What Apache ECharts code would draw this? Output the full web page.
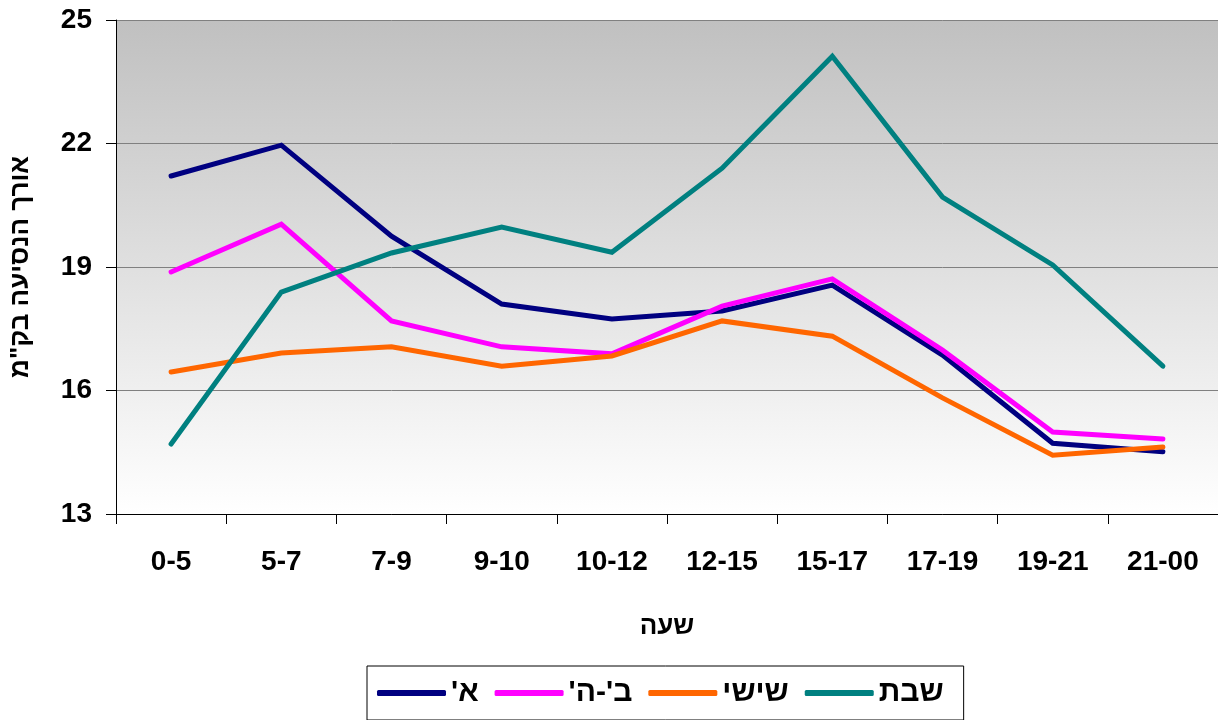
<!DOCTYPE html>
<html><head><meta charset="utf-8">
<script src="https://cdn.jsdelivr.net/npm/echarts@6/dist/echarts.min.js"></script>
<style>html,body{margin:0;padding:0;background:#fff}#c{width:1218px;height:720px}</style>
</head><body><div id="c"></div>
<script>
const categories = ['0-5','5-7','7-9','9-10','10-12','12-15','15-17','17-19','19-21','21-00'];
const seriesNames = ["א'", "ב'-ה'", 'שישי', 'שבת'];
const dataA = [21.21, 21.96, 19.75, 18.10, 17.74, 17.93, 18.56, 16.86, 14.72, 14.51];
const dataBH = [18.88, 20.04, 17.69, 17.06, 16.89, 18.05, 18.71, 16.98, 14.99, 14.82];
const dataFri = [16.45, 16.91, 17.06, 16.59, 16.84, 17.69, 17.32, 15.82, 14.43, 14.63];
const dataSat = [14.70, 18.39, 19.34, 19.97, 19.36, 21.40, 24.12, 20.70, 19.05, 16.59];
const yTicks = [13, 16, 19, 22, 25];
const colors = ['#000080', '#FF00FF', '#FF6600', '#008080'];
const RLM = '\u200F';
const FONT = '"Liberation Sans", Arial, sans-serif';

const chart = echarts.init(document.getElementById('c'), null, {renderer: 'canvas'});
const allData = [dataA, dataBH, dataFri, dataSat];
chart.setOption({
  animation: false,
  textStyle: {fontFamily: FONT},
  grid: {
    left: 113, top: 20, right: 0, bottom: 206,
    show: true, borderWidth: 0,
    backgroundColor: new echarts.graphic.LinearGradient(0, 0, 0, 1, [
      {offset: 0, color: '#c0c0c0'}, {offset: 1, color: '#ffffff'}
    ])
  },
  xAxis: {
    type: 'category', data: categories, boundaryGap: true,
    name: RLM + 'שעה' + RLM, nameLocation: 'middle', nameGap: 100,
    nameTextStyle: {fontSize: 26, fontWeight: 'bold', color: '#000', fontFamily: FONT},
    axisLine: {lineStyle: {color: '#000', width: 1}},
    axisTick: {show: true, length: 10, inside: false, alignWithLabel: false, lineStyle: {color: '#000'}},
    axisLabel: {fontSize: 28, fontWeight: 'bold', color: '#000', margin: 34, fontFamily: FONT},
    splitLine: {show: false}
  },
  yAxis: {
    type: 'value', min: 13, max: 25, interval: 3,
    name: RLM + 'אורך הנסיעה בק"מ' + RLM, nameLocation: 'middle', nameGap: 82, nameRotate: 90,
    nameTextStyle: {fontSize: 26, fontWeight: 'bold', color: '#000', fontFamily: FONT},
    axisLine: {show: true, lineStyle: {color: '#000', width: 1}},
    axisTick: {show: true, length: 10, lineStyle: {color: '#000'}},
    axisLabel: {fontSize: 28, fontWeight: 'bold', color: '#000', margin: 24, fontFamily: FONT,
      formatter: v => yTicks.includes(v) ? String(v) : ''},
    splitLine: {show: true, lineStyle: {color: '#808080', width: 1}}
  },
  legend: {
    left: 367, top: 666,
    orient: 'horizontal',
    borderColor: '#000', borderWidth: 1,
    padding: [12, 20, 12, 10],
    itemGap: 16, itemWidth: 69, itemHeight: 6,
    icon: 'roundRect',
    textStyle: {fontSize: 30, fontWeight: 'bold', color: '#000', fontFamily: FONT},
    formatter: n => RLM + n + RLM,
    data: seriesNames
  },
  series: seriesNames.map((n, i) => ({
    name: n, type: 'line', data: allData[i],
    symbol: 'none', showSymbol: false,
    color: colors[i],
    itemStyle: {color: colors[i]},
    lineStyle: {color: colors[i], width: 5, cap: 'round', join: 'miter'}
  }))
});
</script></body></html>
